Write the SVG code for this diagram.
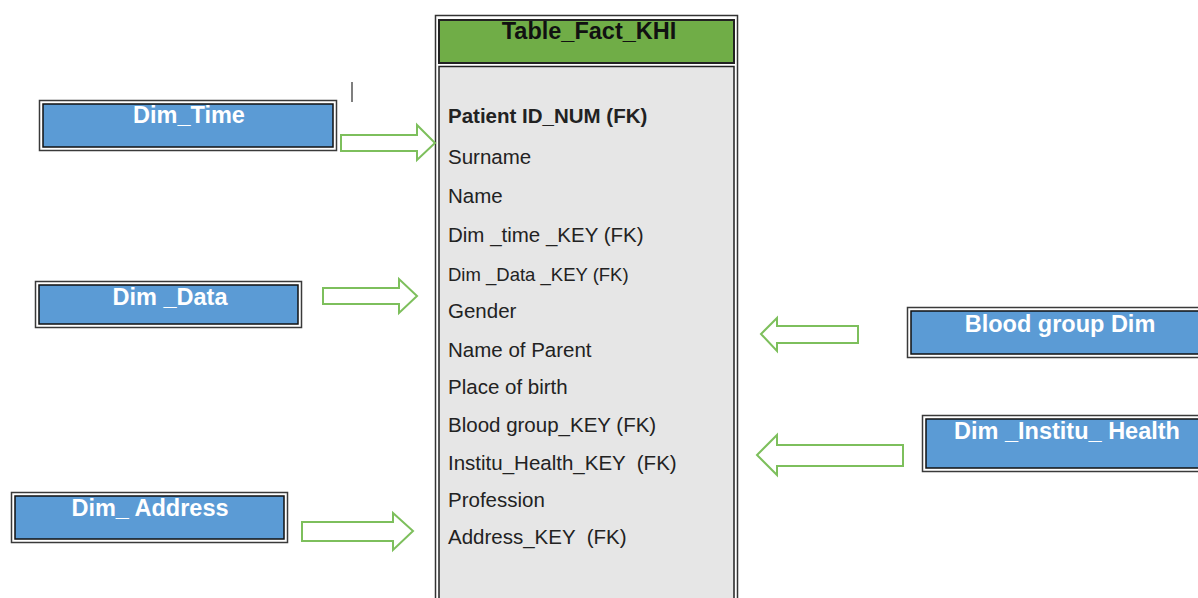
<svg xmlns="http://www.w3.org/2000/svg" width="1198" height="598" viewBox="0 0 1198 598">
<style>
.dimout{fill:#ffffff;stroke:#3a3a3a;stroke-width:1.5}
.dimin{fill:#5b9bd5;stroke:#111;stroke-width:1.5}
.dimtxt{font-family:"Liberation Sans",Arial,sans-serif;font-weight:bold;font-size:23.5px;fill:#ffffff;text-anchor:middle}
.arrow{fill:#ffffff;stroke:#7dbf5c;stroke-width:2;stroke-linejoin:miter}
.row{font-family:"Liberation Sans",Arial,sans-serif;font-size:20.5px;fill:#222}
.small{font-size:18.5px}
</style>
<rect width="1198" height="598" fill="#ffffff"/>
<line x1="352" y1="82" x2="352" y2="102" stroke="#555" stroke-width="1.5"/>
<g id="fact_table">
<rect x="435.5" y="15.5" width="302" height="600" fill="#ffffff" stroke="#333" stroke-width="1.5"/>
<rect x="439" y="20" width="295" height="43" fill="#70ad47" stroke="#222" stroke-width="2"/>
<text x="589" y="39" font-family="'Liberation Sans',Arial,sans-serif" font-size="23.5" font-weight="bold" fill="#111" text-anchor="middle">Table_Fact_KHI</text>
<rect x="439" y="66.5" width="295" height="560" fill="#e6e6e6" stroke="#222" stroke-width="1.5"/>
<text class="row" x="448" y="123" font-weight="bold">Patient ID_NUM (FK)</text>
<text class="row" x="448" y="164">Surname</text>
<text class="row" x="448" y="203">Name</text>
<text class="row" x="448" y="242">Dim _time _KEY (FK)</text>
<text class="row small" x="448" y="281">Dim _Data _KEY (FK)</text>
<text class="row" x="448" y="318">Gender</text>
<text class="row" x="448" y="357">Name of Parent</text>
<text class="row" x="448" y="394">Place of birth</text>
<text class="row" x="448" y="432">Blood group_KEY (FK)</text>
<text class="row" x="448" y="470" xml:space="preserve">Institu_Health_KEY  (FK)</text>
<text class="row" x="448" y="507">Profession</text>
<text class="row" x="448" y="544" xml:space="preserve">Address_KEY  (FK)</text>
</g>
<g id="dim_time">
<rect class="dimout" x="39.5" y="100.5" width="297" height="50"/>
<rect class="dimin" x="43" y="104" width="290" height="43"/>
<text class="dimtxt" x="189" y="123">Dim_Time</text>
</g>
<g id="dim_data">
<rect class="dimout" x="35.5" y="281.5" width="266" height="46"/>
<rect class="dimin" x="39" y="285" width="259" height="39"/>
<text class="dimtxt" x="170" y="305">Dim _Data</text>
</g>
<g id="dim_address">
<rect class="dimout" x="11.5" y="492.5" width="276" height="50"/>
<rect class="dimin" x="15" y="496" width="269" height="43"/>
<text class="dimtxt" x="150" y="516" xml:space="preserve">Dim_ Address</text>
</g>
<g id="dim_blood">
<rect class="dimout" x="907.5" y="307.5" width="300" height="50"/>
<rect class="dimin" x="911" y="311" width="300" height="43"/>
<text class="dimtxt" x="1060" y="332">Blood group Dim</text>
</g>
<g id="dim_institu">
<rect class="dimout" x="922.5" y="415.5" width="290" height="56"/>
<rect class="dimin" x="926" y="419" width="290" height="49"/>
<text class="dimtxt" x="1067" y="439" xml:space="preserve">Dim _Institu_ Health</text>
</g>
<g id="connectors">
<polygon class="arrow" points="341,135 417,135 417,125 435,143 417,160 417,151 341,151"/>
<polygon class="arrow" points="323,288 399,288 399,279 417,296 399,313 399,304 323,304"/>
<polygon class="arrow" points="302,522 393,522 393,513 413,531 393,550 393,541 302,541"/>
<polygon class="arrow" points="858,326 777,326 777,318 761,334 777,351 777,343 858,343"/>
<polygon class="arrow" points="903,445 777,445 777,435 757,455 777,475 777,466 903,466"/>
</g>
</svg>
